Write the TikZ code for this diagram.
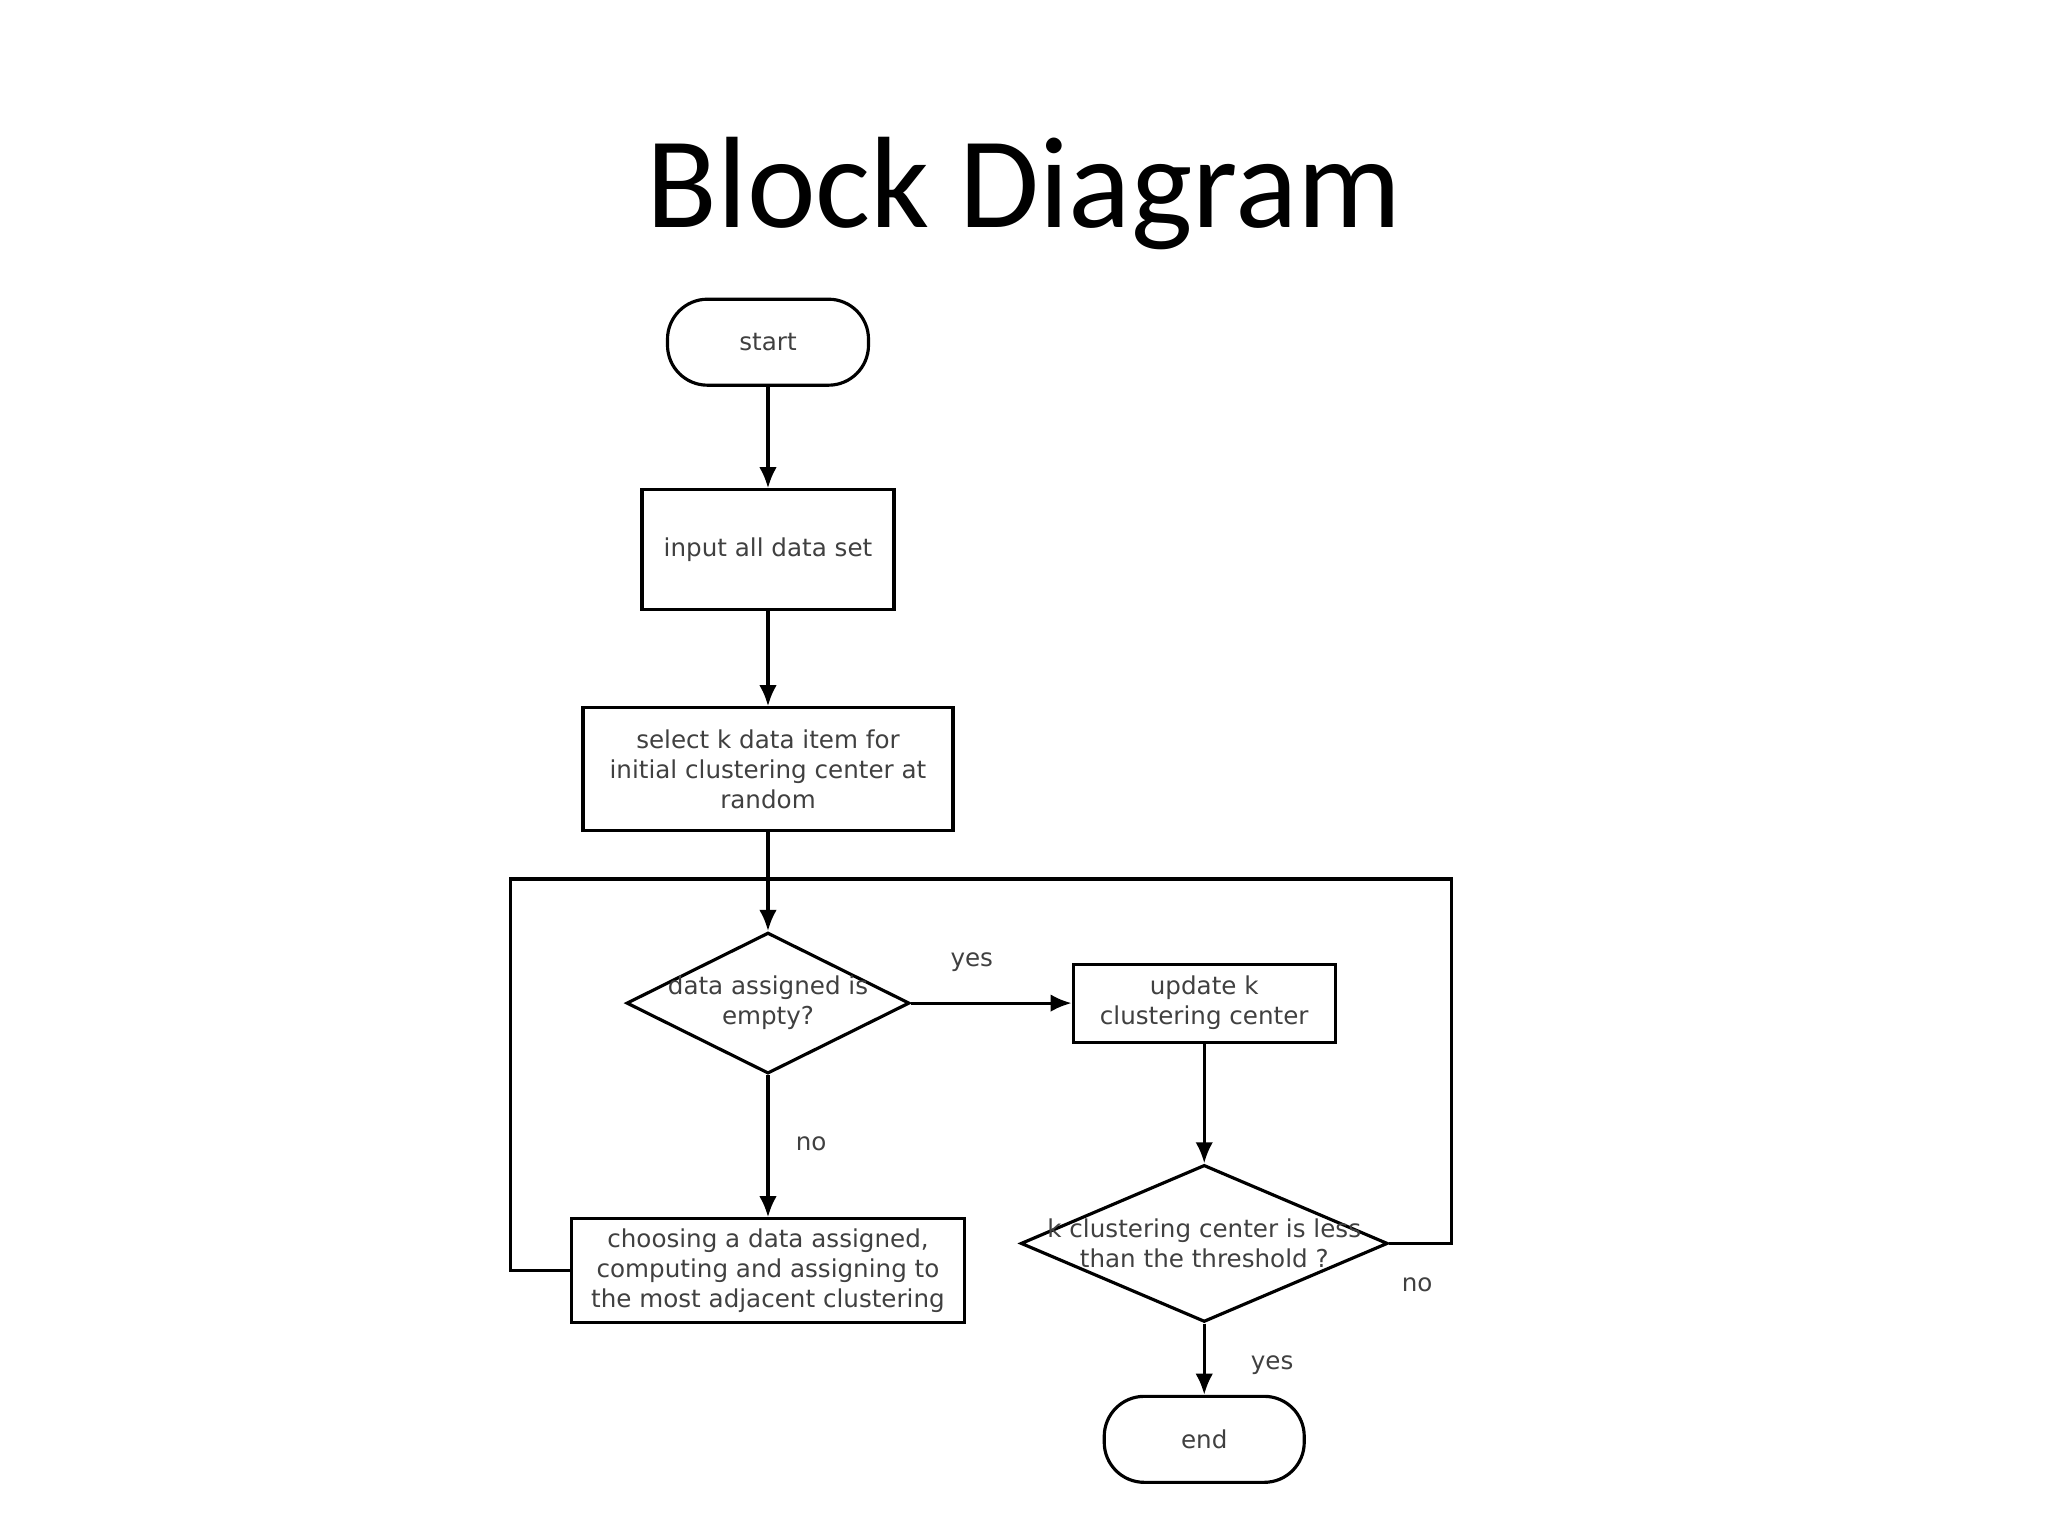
\documentclass[tikz,border=0pt]{standalone}
\usepackage{fontspec}
\setmainfont{DejaVu Sans}
\newfontfamily\titlefont{Carlito}
\usetikzlibrary{shapes.geometric,arrows.meta}
\begin{document}
\begin{tikzpicture}[x=0.01306cm,y=-0.01306cm,
  box/.style={draw,line width=0.9pt,inner sep=0pt,font=\fontsize{7}{8.5}\selectfont,align=center,text=black!75},
  term/.style={box,rounded corners=0.4cm},
  dia/.style={box,diamond,aspect=2},
  lab/.style={font=\fontsize{7}{8.5}\selectfont,text=black!75},
  arr/.style={line width=0.9pt,-{Latex[length=6pt,width=5pt]}},
  ln/.style={line width=0.9pt}]
\useasboundingbox (0,0) rectangle (1568,1176);
\node[font=\titlefont\fontsize{37}{40}\selectfont] (title) at (784,148) {Block Diagram};
\node[term,minimum width=154\pgflinewidth*0+2.01cm,minimum height=0.86cm] (start) at (588,262) {start};
\node[box,minimum width=2.52cm,minimum height=1.2cm] (input) at (588,421) {input all data set};
\node[box,minimum width=3.70cm,minimum height=1.23cm] (select) at (588,589) {select k data item for\\initial clustering center at\\random};
\node[box,diamond,minimum width=2.83cm,minimum height=1.41cm,aspect=2] (d1) at (588,768) {};
\node[lab,align=center] at (588,768) {data assigned is\\empty?};
\node[box,minimum width=2.62cm,minimum height=0.78cm] (upd) at (922,768) {update k\\clustering center};
\node[box,diamond,minimum width=3.67cm,minimum height=1.57cm,aspect=2.3] (d2) at (922,952) {};
\node[lab,align=center] at (922,952) {k clustering center is less\\than the threshold ?};
\node[box,minimum width=3.93cm,minimum height=1.04cm] (cho) at (588,973) {choosing a data assigned,\\computing and assigning to\\the most adjacent clustering};
\node[term,minimum width=2.0cm,minimum height=0.86cm] (end) at (922,1102) {end};
\coordinate (j) at (588,673);
\draw[arr] (start) -- (input);
\draw[arr] (input) -- (select);
\draw[arr] (select) -- (d1.north);
\draw[arr] (d1.east) -- (upd.west);
\draw[arr] (d1.south) -- (cho.north);
\draw[arr] (upd.south) -- (d2.north);
\draw[arr] (d2.south) -- (end.north);
\draw[ln] (cho.west) -- (391,973) -- (391,673) -- (1111,673) -- (1111,952) -- (d2.east);
\node[lab] at (744,737) {yes};
\node[lab] at (621,876) {no};
\node[lab] at (1085,984) {no};
\node[lab] at (974,1045) {yes};
\end{tikzpicture}
\end{document}
